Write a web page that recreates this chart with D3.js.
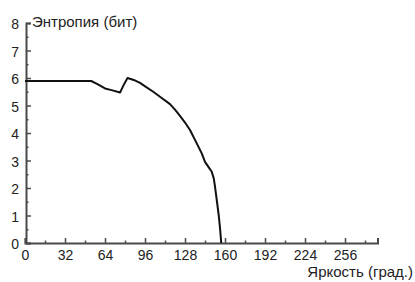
<!DOCTYPE html>
<html>
<head>
<meta charset="utf-8">
<script src="https://cdn.jsdelivr.net/npm/d3@7"></script>
<style>
  body { margin: 0; background: #fff; }
  text { font-family: "Liberation Sans", Arial, sans-serif; fill: #222; }
</style>
</head>
<body>
<svg id="chart"></svg>
<script>
// яркость (град.) и энтропия (бит)
const brightness = [0, 20, 40, 53, 58, 64, 70, 76, 79, 82, 87, 92, 97, 102.6, 108, 116, 120, 124, 128, 132, 136, 141.4, 144, 147, 149.3, 151, 152, 153.3, 155, 156, 157];
const entropy    = [5.89, 5.89, 5.89, 5.89, 5.78, 5.62, 5.55, 5.47, 5.75, 6.0, 5.93, 5.82, 5.67, 5.5, 5.32, 5.05, 4.85, 4.62, 4.38, 4.11, 3.75, 3.26, 2.95, 2.75, 2.6, 2.35, 2.05, 1.6, 1.0, 0.55, 0];
const xTicks = [0, 32, 64, 96, 128, 160, 192, 224, 256];
const xMinor = [16, 48, 80, 112, 144, 176, 208, 240, 272];
const yTicks = [0, 1, 2, 3, 4, 5, 6, 7, 8];
const yMinor = [0.5, 1.5, 2.5, 3.5, 4.5, 5.5, 6.5, 7.5];

const width = 415;
const height = 282;
const marge = { top: 23, left: 25 };

const svg = d3.select("#chart").attr("width", width).attr("height", height);

// шкалы
const xScale = d3.scaleLinear().domain([0, 282]).range([marge.left, marge.left + 352.5]);
const yScale = d3.scaleLinear().domain([0, 8]).range([243, 23]);

const axisColor = "#4a4a4a";
const fontSize = "14px";

// ось X
const gax = svg.append("g").attr("transform", `translate(0,${yScale(0)})`);
gax.call(d3.axisBottom(xScale).tickValues(xTicks).tickSize(-5).tickPadding(7));
const gaxm = svg.append("g").attr("transform", `translate(0,${yScale(0)})`);
gaxm.call(d3.axisBottom(xScale).tickValues(xMinor).tickSize(-2.5).tickFormat(""));
gaxm.select(".domain").remove();

// ось Y
const gay = svg.append("g").attr("transform", `translate(${xScale(0) + 1},0)`);
gay.call(d3.axisLeft(yScale).tickValues(yTicks).tickSize(-5).tickPadding(7));
const gaym = svg.append("g").attr("transform", `translate(${xScale(0) + 1},0)`);
gaym.call(d3.axisLeft(yScale).tickValues(yMinor).tickSize(-2.5).tickFormat(""));
gaym.select(".domain").remove();

svg.selectAll(".domain").attr("stroke", axisColor).attr("stroke-width", 2);
svg.selectAll(".tick line").attr("stroke", axisColor).attr("stroke-width", 1.5);
svg.selectAll(".tick text").attr("font-size", fontSize).attr("font-family", "Liberation Sans, Arial, sans-serif").attr("fill", "#222");
gay.selectAll(".tick text").attr("dy", "0.4em");

// кривая
const line = d3.line()
  .x((d, i) => xScale(brightness[i]))
  .y(d => yScale(d));
svg.append("path")
  .datum(entropy)
  .attr("fill", "none")
  .attr("stroke", "#111")
  .attr("stroke-width", 2)
  .attr("stroke-linejoin", "round")
  .attr("d", line);

// подписи осей
svg.append("text")
  .attr("x", 32).attr("y", 27)
  .attr("font-size", "15px")
  .text("Энтропия (бит)");
svg.append("text")
  .attr("x", 413).attr("y", 277)
  .attr("text-anchor", "end")
  .attr("font-size", "15px")
  .text("Яркость (град.)");
</script>
</body>
</html>
